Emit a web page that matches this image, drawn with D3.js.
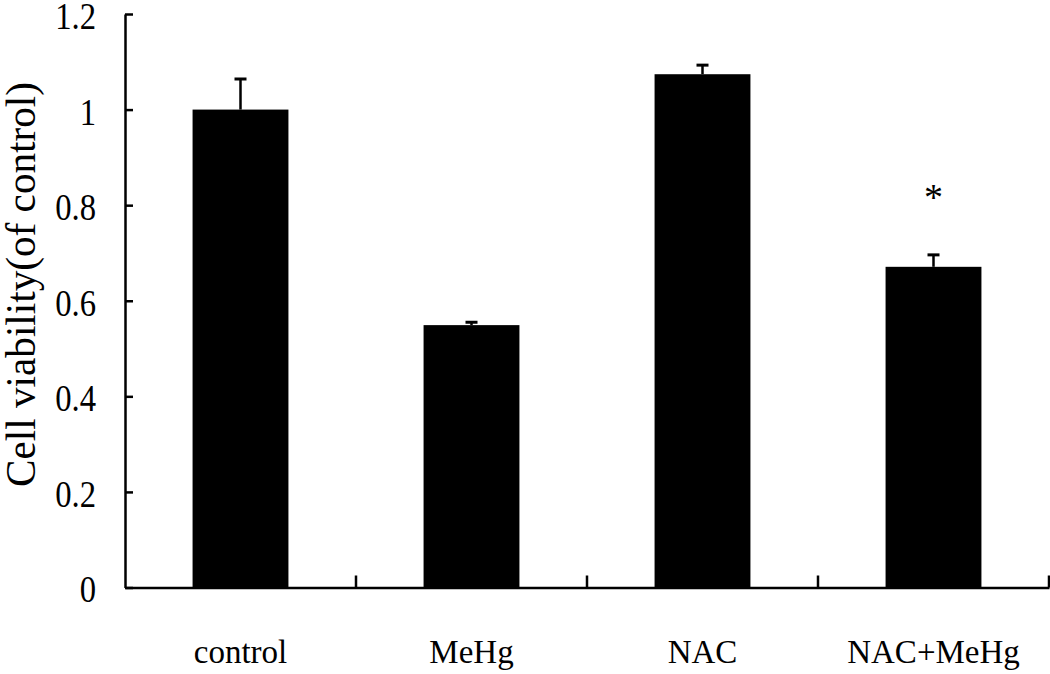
<!DOCTYPE html>
<html><head><meta charset="utf-8">
<script src="https://cdn.jsdelivr.net/npm/d3@7"></script>
<style>body{margin:0;background:#fff}svg{display:block}text{font-family:"Liberation Serif","Times New Roman",serif}</style>
</head><body><svg id="c" width="1050" height="674"></svg>
<script>
const categories = ["control","MeHg","NAC","NAC+MeHg"];
const values = [1.0, 0.549, 1.074, 0.671];
const errors = [0.064, 0.006, 0.019, 0.025];
const significance = ["", "", "", "*"];
const yTicks = [0,0.2,0.4,0.6,0.8,1,1.2];

const svg = d3.select("#c");
const m = {l:125, r:1049, t:14, b:587.5};
const x = d3.scaleBand().domain(categories).range([m.l, m.r]).paddingInner(0).paddingOuter(0);
const y = d3.scaleLinear().domain([0,1.2]).range([m.b, m.t]);
const bw = x.bandwidth()*0.415;

// bars
svg.selectAll("rect.bar").data(categories).enter().append("rect")
  .attr("x", d=>x(d)+x.bandwidth()/2-bw/2)
  .attr("y", (d,i)=>y(values[i]))
  .attr("width", bw)
  .attr("height", (d,i)=>y(0)-y(values[i]))
  .attr("fill","#000");

// error bars
const g = svg.append("g");
categories.forEach((c,i)=>{
  const cx = x(c)+x.bandwidth()/2;
  g.append("line").attr("x1",cx).attr("x2",cx).attr("y1",y(values[i])).attr("y2",y(values[i]+errors[i])).attr("stroke","#000").attr("stroke-width",2.5);
  g.append("line").attr("x1",cx-6).attr("x2",cx+6).attr("y1",y(values[i]+errors[i])).attr("y2",y(values[i]+errors[i])).attr("stroke","#000").attr("stroke-width",3);
  if(significance[i]) g.append("text").attr("x",cx).attr("y",y(values[i]+errors[i])-45).attr("text-anchor","middle").attr("font-size",38).text(significance[i]);
});

// y axis
const sx = 0.86;
const ya = svg.append("g").attr("transform",`translate(${m.l},0)`)
  .call(d3.axisRight(y).tickValues(yTicks).tickSize(8).tickFormat(d=>d3.format("")(d)).tickSizeOuter(0));
ya.select(".domain").attr("stroke","#000").attr("stroke-width",2.5);
ya.selectAll(".tick line").attr("stroke","#000").attr("stroke-width",2.5);
ya.selectAll(".tick text").attr("x",-29/sx).attr("text-anchor","end").attr("font-size",38).attr("font-family","Liberation Serif").attr("fill","#000").attr("dy","0.38em")
  .attr("transform",`scale(${sx},1)`);

// x axis
const xa = svg.append("g").attr("transform",`translate(0,${m.b})`)
  .call(d3.axisBottom(x).tickSize(0).tickSizeOuter(0));
xa.select(".domain").attr("stroke","#000").attr("stroke-width",2.5);
xa.selectAll(".tick text").attr("y",75).attr("dy",0).attr("font-size",33).attr("font-family","Liberation Serif").attr("fill","#000");
// category boundary ticks (upward)
const bounds = categories.slice(1).map(c=>x(c)).concat([m.r]);
svg.selectAll("line.bt").data(bounds).enter().append("line")
  .attr("x1",d=>d).attr("x2",d=>d).attr("y1",m.b).attr("y2",m.b-12)
  .attr("stroke","#000").attr("stroke-width",2.5);

// y label
svg.append("text").attr("transform",`translate(35,284.5) rotate(-90)`)
  .attr("text-anchor","middle").attr("font-size",42)
  .attr("textLength",405).attr("lengthAdjust","spacingAndGlyphs")
  .text("Cell viability(of control)");
</script></body></html>
